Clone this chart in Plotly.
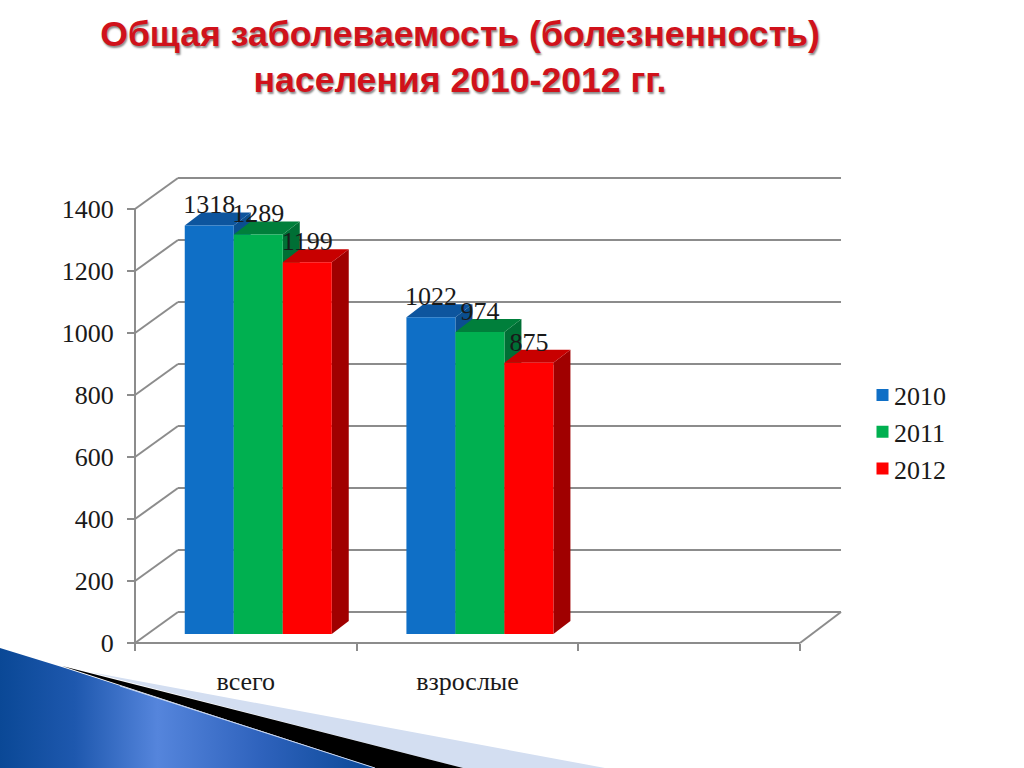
import plotly.graph_objects as go

# ---- data ----
categories = ["всего", "взрослые"]
series_names = ["2010", "2011", "2012"]
values_2010 = [1318, 1022]
values_2011 = [1289, 974]
values_2012 = [1199, 875]
y_ticks = [0, 200, 400, 600, 800, 1000, 1200, 1400]
title_lines = ["Общая заболеваемость (болезненность)", "населения 2010-2012 гг."]

# ---- styling / geometry ----
W, H = 1024, 768
PX_X, PX_Y = 221.67, 0.31          # pixels per category, pixels per value
X0_PX, Y0_PX = 135, 643            # where (0, 0) of the front plane sits
LEFT, RIGHT, TOP, BOTTOM = 100, 860, 170, 660
GRID = "#8C8C8C"
INK = "#1A1A1A"
SERIF = "Liberation Serif"
FRONT = ["#0F6FC6", "#00B050", "#FF0000"]
TOPF = ["#0D559E", "#007F3B", "#C80000"]
SIDE = ["#0B4E90", "#006F35", "#A00000"]
WALL_DX, WALL_DY = 43 / PX_X, 31 / PX_Y   # depth of the walls in axis units
WALL_END = 41 / PX_X                       # right-hand end of the back wall
BAR_DX, BAR_DY = 17 / PX_X, 13 / PX_Y     # depth of a bar
BASE = 29                                  # bars stand in front of the back wall
BAR_W = 49 / PX_X
GROUP_SHIFT = 0.556
n_cat_slots = 3

series = [values_2010, values_2011, values_2012]

fig = go.Figure()
shapes = []


def line(x0, y0, x1, y1):
    shapes.append(dict(type="line", xref="x", yref="y", x0=x0, y0=y0, x1=x1, y1=y1,
                       layer="below", line=dict(color=GRID, width=2)))


# walls and floor
for v in y_ticks:
    line(0, v, WALL_DX, v + WALL_DY)
    line(WALL_DX, v + WALL_DY, n_cat_slots + WALL_END, v + WALL_DY)
line(0, 0, 0, y_ticks[-1])
line(0, 0, n_cat_slots, 0)
line(n_cat_slots, 0, n_cat_slots + WALL_END, WALL_DY)

# depth faces, left to right so that each bar overlaps the previous one
for g in range(len(categories)):
    for s, vals in enumerate(series):
        left = g + GROUP_SHIFT + (s - 1.5) * BAR_W
        right = left + BAR_W
        top = BASE + vals[g]
        top_path = (f"M{left},{top}L{left + BAR_DX},{top + BAR_DY}"
                    f"L{right + BAR_DX},{top + BAR_DY}L{right},{top}Z")
        side_path = (f"M{right},{BASE}L{right + BAR_DX},{BASE + BAR_DY}"
                     f"L{right + BAR_DX},{top + BAR_DY}L{right},{top}Z")
        shapes.append(dict(type="path", xref="x", yref="y", path=side_path, layer="below",
                           fillcolor=SIDE[s], line=dict(width=0)))
        shapes.append(dict(type="path", xref="x", yref="y", path=top_path, layer="below",
                           fillcolor=TOPF[s], line=dict(width=0)))

# front faces
group_x = [g + GROUP_SHIFT for g in range(len(categories))]
for s, vals in enumerate(series):
    fig.add_trace(go.Bar(x=group_x, y=vals, base=[BASE] * len(vals), name=series_names[s],
                         legendgroup=series_names[s],
                         marker=dict(color=FRONT[s], line=dict(width=0))))

# data labels
for s, vals in enumerate(series):
    fig.add_trace(go.Scatter(
        x=[g + GROUP_SHIFT + (s - 1) * BAR_W for g in range(len(categories))],
        y=[BASE + v + 18.5 / PX_Y for v in vals],
        mode="text", text=[str(v) for v in vals], textposition="middle center",
        textfont=dict(family=SERIF, size=26, color=INK), showlegend=False,
        hoverinfo="skip", cliponaxis=False))

# slide decoration, on a full-page pixel axis
decor = [
    ([90, 605, 463], [672, 768, 768], "#D3DEF1"),
    ([62, 463, 375], [666, 768, 768], "#000000"),
]
for xs, ys, c in decor:
    fig.add_trace(go.Scatter(x=xs, y=ys, xaxis="x2", yaxis="y2", mode="lines", fill="toself",
                             fillcolor=c, line=dict(width=0), showlegend=False, hoverinfo="skip"))
fig.add_trace(go.Scatter(
    x=[0, 65, 375, 0], y=[648, 668, 768, 768], xaxis="x2", yaxis="y2", mode="lines", fill="toself",
    line=dict(width=0), showlegend=False, hoverinfo="skip",
    fillgradient=dict(type="horizontal", start=0, stop=375,
                      colorscale=[[0, "#0A4896"], [0.2, "#1E58AE"], [0.42, "#5585DC"],
                                  [0.7, "#2E62BC"], [1, "#0A4896"]])))
fig.add_trace(go.Scatter(x=[120, 375], y=[686, 768], xaxis="x2", yaxis="y2", mode="lines",
                         line=dict(color="#C8D6F0", width=1), showlegend=False, hoverinfo="skip"))

fig.update_layout(
    width=W, height=H, margin=dict(l=0, r=0, t=0, b=0),
    paper_bgcolor="white", plot_bgcolor="rgba(0,0,0,0)",
    barmode="group", bargap=1 - 3 * BAR_W, bargroupgap=0,
    shapes=shapes,
    title=dict(text="<br>".join(title_lines), x=460 / W, xanchor="center", y=1 - 46 / H, yanchor="middle",
               font=dict(family="Liberation Sans", size=35.6, color="#D0121B",
                         weight="bold", shadow="1px 2px 2px #8a8a8a")),
    xaxis=dict(domain=[LEFT / W, RIGHT / W],
               range=[(LEFT - X0_PX) / PX_X, (RIGHT - X0_PX) / PX_X],
               anchor="free", position=(H - Y0_PX) / H,
               tickmode="array", tickvals=[g + 0.5 for g in range(len(categories))],
               ticktext=categories, ticks="", showgrid=False, zeroline=False, showline=False,
               ticklabelstandoff=20,
               tickfont=dict(family=SERIF, size=26, color=INK),
               minor=dict(tickmode="array", tickvals=list(range(n_cat_slots + 1)), ticks="outside",
                          ticklen=7, tickwidth=2, tickcolor=GRID, showgrid=False)),
    yaxis=dict(domain=[(H - BOTTOM) / H, (H - TOP) / H],
               range=[(Y0_PX - BOTTOM) / PX_Y, (Y0_PX - TOP) / PX_Y],
               anchor="free", position=X0_PX / W,
               tickmode="array", tickvals=y_ticks, ticks="outside", ticklen=8, tickwidth=2,
               tickcolor=GRID, showgrid=False, zeroline=False, showline=False,
               ticklabelstandoff=8,
               tickfont=dict(family=SERIF, size=26, color=INK)),
    xaxis2=dict(domain=[0, 1], range=[0, W], anchor="y2", visible=False, fixedrange=True),
    yaxis2=dict(domain=[0, 1], range=[H, 0], anchor="x2", visible=False, fixedrange=True),
    legend=dict(x=854 / W, y=1 - 432 / H, xanchor="left", yanchor="middle",
                traceorder="grouped", tracegroupgap=0,
                font=dict(family=SERIF, size=26, color=INK), bgcolor="rgba(0,0,0,0)"),
)

POST = """
document.body.style.margin = '0';
function moveSwatches() {
  document.querySelectorAll('g.legendpoints').forEach(function (p) {
    p.setAttribute('transform', 'translate(8.5,0)');
  });
}
moveSwatches();
setTimeout(moveSwatches, 30);
setTimeout(moveSwatches, 300);
"""
fig.write_html("out.html", config=dict(displayModeBar=False), post_script=POST)
